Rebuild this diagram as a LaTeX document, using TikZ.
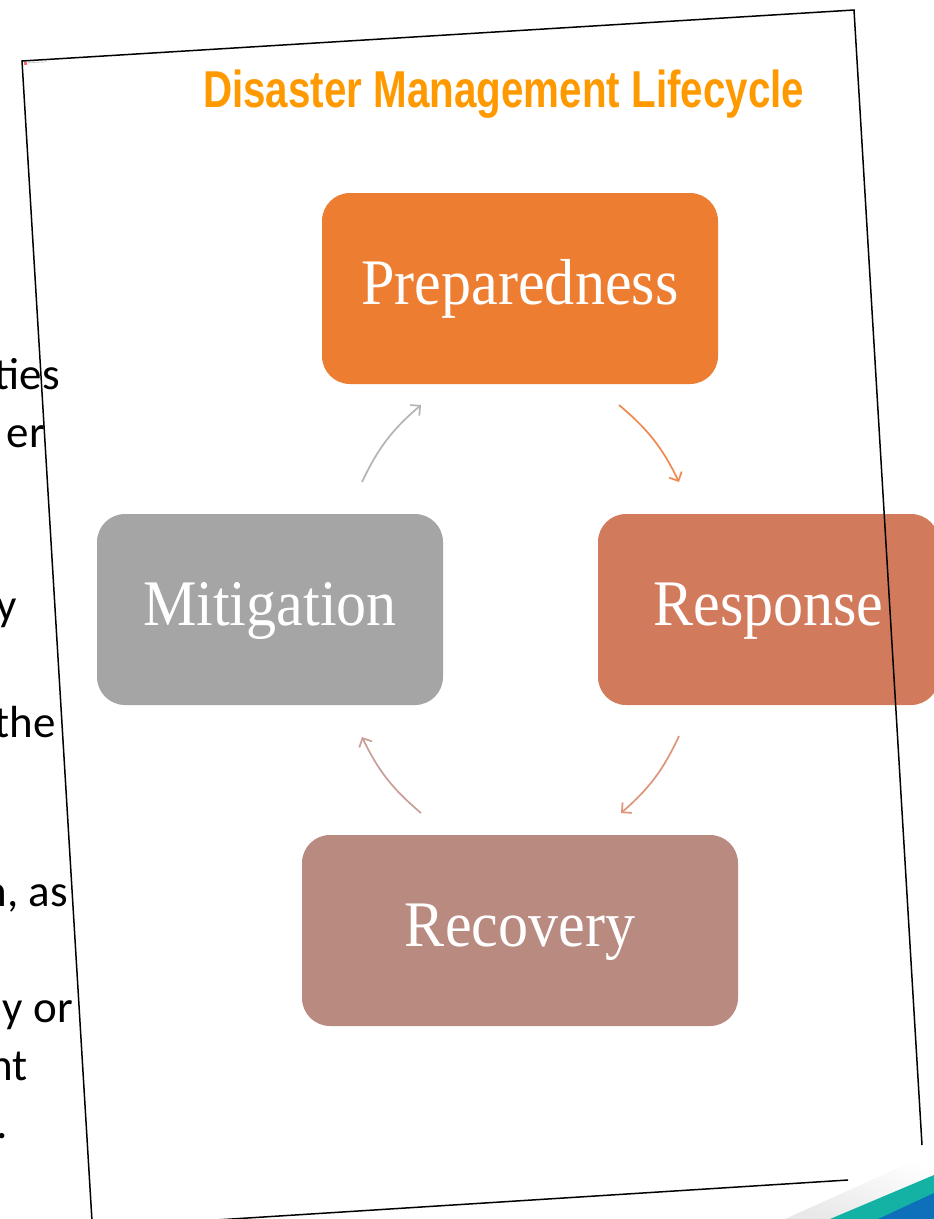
\documentclass[tikz,border=0pt]{standalone}
\usepackage{fontspec}
\setmainfont{Liberation Serif}
\newfontfamily\titlefont{Liberation Sans}
\newfontfamily\labelfont[FakeStretch=0.924]{Liberation Serif}
\newfontfamily\bodyfont{Carlito}
\usetikzlibrary{arrows.meta}

\definecolor{titleorange}{RGB}{255,153,0}
\definecolor{prepcol}{RGB}{237,125,49}
\definecolor{mitcol}{RGB}{165,165,165}
\definecolor{respcol}{RGB}{210,123,92}
\definecolor{reccol}{RGB}{185,138,128}
\definecolor{arrgray}{RGB}{180,180,180}
\definecolor{arrorange}{RGB}{238,138,80}
\definecolor{arrresp}{RGB}{222,150,122}
\definecolor{arrrec}{RGB}{200,160,152}
\definecolor{swteal}{RGB}{20,178,165}
\definecolor{swblue}{RGB}{14,112,186}

\tikzset{
  phase/.style={rounded corners=28pt, inner sep=0pt, text=white,
    font=\labelfont\fontsize{65}{65}\selectfont,
    text height=45pt, text depth=14pt},
  cyclearrow/.style={line width=1.7pt, bend left=12,
    -{Straight Barb[length=7pt,width=14pt]}},
  bodytext/.style={anchor=base east, inner sep=0pt,
    font=\bodyfont\fontsize{45}{45}\selectfont},
  pageedge/.style={line width=1.5pt, black}
}

\begin{document}
\begin{tikzpicture}[x=1pt,y=-1pt]
\clip (0,0) rectangle (934,1219);
\fill[white] (0,0) rectangle (934,1219);

% slide text running behind the page
\node[bodytext] (t1) at (60,389) {ties};
\node[bodytext] (t2) at (45,447) {er};
\node[bodytext] (t3) at (17,620) {y};
\node[bodytext] (t4) at (56,737) {the};
\node[bodytext] (t5) at (68,906) {n, as};
\node[bodytext] (t6) at (73,1022) {y or};
\node[bodytext] (t7) at (28,1080) {nt};
\node[bodytext] (t8) at (8,1138) {.};

% title
\node[anchor=base west, inner sep=0pt, text=titleorange] (title) at (203,107)
  {\resizebox{601pt}{37.6pt}{\titlefont\bfseries Disaster Management Lifecycle}};

% lifecycle phases
\node[phase, fill=prepcol, minimum width=396pt, minimum height=191pt] (prep) at (520,288.5) {Preparedness};
\node[phase, fill=mitcol,  minimum width=346pt, minimum height=191pt] (mit)  at (270,609.5) {Mitigation};
\node[phase, fill=respcol, minimum width=341pt, minimum height=191pt] (resp) at (768.5,609.5) {Response};
\node[phase, fill=reccol,  minimum width=436pt, minimum height=191pt] (rec)  at (520,930.5) {Recovery};

% arrow end points between the phases
\coordinate (a1s) at (362,482);  \coordinate (a1e) at (421,405);
\coordinate (a2s) at (619,405);  \coordinate (a2e) at (679,482);
\coordinate (a3s) at (679,736);  \coordinate (a3e) at (621,813);
\coordinate (a4s) at (421,813);  \coordinate (a4e) at (362,737);

\draw[cyclearrow, arrgray]   (a1s) to (a1e);
\draw[cyclearrow, arrorange] (a2s) to (a2e);
\draw[cyclearrow, arrresp]   (a3s) to (a3e);
\draw[cyclearrow, arrrec]    (a4s) to (a4e);

% corner swoosh with a soft shadow above it
\shade[top color=white, bottom color=black!9, shading angle=-23]
  (785,1219) -- (934,1152) -- (934,1175) -- (830,1219) -- cycle;
\fill[swteal] (830,1219) -- (934,1175) -- (934,1219) -- cycle;
\fill[swblue] (878,1219) -- (934,1193) -- (934,1219) -- cycle;

% tilted page outline
\coordinate (pTL) at (22,61);
\coordinate (pTR) at (854,10);
\coordinate (pR)  at (922,1145);
\coordinate (pBR) at (848,1180);
\coordinate (pBL) at (200,1221);
\coordinate (pL)  at (92,1221);
\draw[pageedge] (pL) -- (pTL) -- (pTR) -- (pR);
\draw[pageedge] (pBR) -- (pBL);

% page tab icon
\fill[red!60] (23.5,61.5) rectangle (26.5,64.5);
\draw[black!25, line width=0.6pt] (28,62.8) -- (47,61.8);
\end{tikzpicture}
\end{document}
